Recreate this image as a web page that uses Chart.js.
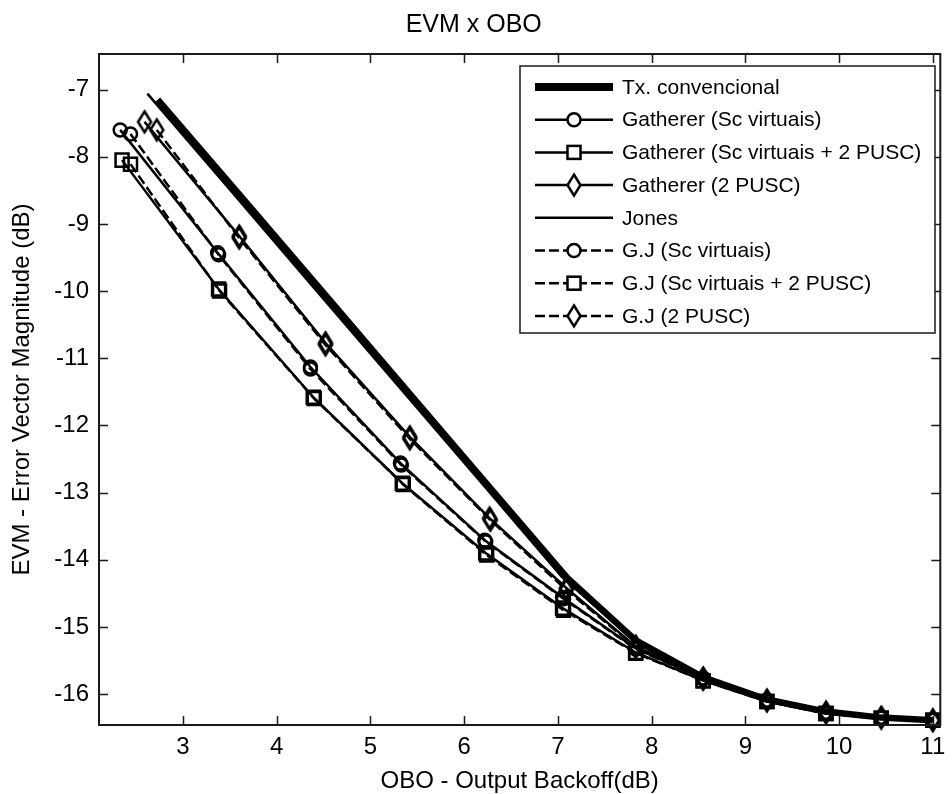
<!DOCTYPE html>
<html>
<head>
<meta charset="utf-8">
<title>EVM x OBO</title>
<script src="https://cdn.jsdelivr.net/npm/chart.js@4.4.0/dist/chart.umd.min.js"></script>
<style>
  html, body { margin: 0; padding: 0; background: #fff; }
  #wrap { width: 952px; height: 794px; }
</style>
</head>
<body>
<div id="wrap"><canvas id="chart-evm" width="952" height="794"></canvas></div>
<script>
// EVM x OBO

const xTicks = [3, 4, 5, 6, 7, 8, 9, 10, 11];
const yTicks = [-16, -15, -14, -13, -12, -11, -10, -9, -8, -7];

const seriesLabels = [
  "Tx. convencional",
  "Gatherer (Sc virtuais)",
  "Gatherer (Sc virtuais + 2 PUSC)",
  "Gatherer (2 PUSC)",
  "Jones",
  "G.J (Sc virtuais)",
  "G.J (Sc virtuais + 2 PUSC)",
  "G.J (2 PUSC)"
];

// Tx. convencional (thick line)
const txX = [2.73, 3.60, 4.52, 5.42, 6.27, 7.10, 7.83, 8.55, 9.23, 9.86, 10.45, 11.0];
const txY = [-7.15, -8.56, -10.06, -11.53, -12.92, -14.27, -15.20, -15.75, -16.08, -16.26, -16.35, -16.39];

// Gatherer (Sc virtuais)
const gScX = [2.33, 3.37, 4.36, 5.32, 6.22, 7.05, 7.83, 8.55, 9.23, 9.86, 10.45, 11.0];
const gScY = [-7.60, -9.43, -11.13, -12.56, -13.71, -14.56, -15.32, -15.76, -16.09, -16.27, -16.35, -16.39];

// Gatherer (Sc virtuais + 2 PUSC)
const gScPX = [2.35, 3.38, 4.39, 5.34, 6.23, 7.05, 7.83, 8.55, 9.23, 9.86, 10.45, 11.0];
const gScPY = [-8.05, -9.97, -11.58, -12.86, -13.90, -14.72, -15.38, -15.80, -16.11, -16.29, -16.36, -16.39];

// Gatherer (2 PUSC)
const gPX = [2.59, 3.60, 4.52, 5.42, 6.27, 7.09, 7.83, 8.55, 9.23, 9.86, 10.45, 11.0];
const gPY = [-7.48, -9.18, -10.77, -12.17, -13.38, -14.42, -15.29, -15.76, -16.09, -16.27, -16.35, -16.39];

// Jones
const jonesX = [2.62, 3.49, 4.41, 5.32, 6.20, 7.04, 7.81, 8.54, 9.22, 9.86, 10.45, 11.0];
const jonesY = [-7.06, -8.47, -9.97, -11.45, -12.88, -14.25, -15.20, -15.75, -16.08, -16.26, -16.35, -16.39];

// G.J (Sc virtuais)
const gjScX = [2.44, 3.38, 4.36, 5.33, 6.23, 7.06, 7.83, 8.55, 9.23, 9.86, 10.45, 11.0];
const gjScY = [-7.66, -9.46, -11.16, -12.59, -13.73, -14.58, -15.33, -15.77, -16.10, -16.28, -16.35, -16.39];

// G.J (Sc virtuais + 2 PUSC)
const gjScPX = [2.44, 3.39, 4.40, 5.35, 6.24, 7.06, 7.83, 8.55, 9.23, 9.86, 10.45, 11.0];
const gjScPY = [-8.11, -10.00, -11.60, -12.88, -13.93, -14.75, -15.39, -15.80, -16.11, -16.29, -16.36, -16.39];

// G.J (2 PUSC)
const gjPX = [2.72, 3.60, 4.52, 5.42, 6.28, 7.09, 7.83, 8.55, 9.23, 9.86, 10.45, 11.0];
const gjPY = [-7.60, -9.21, -10.80, -12.20, -13.41, -14.45, -15.30, -15.78, -16.10, -16.28, -16.35, -16.39];

const FONT = "'Liberation Sans', Arial, Helvetica, sans-serif";
const INK = "#000000";

// narrow diamond marker (matlab style 'd')
function makeDiamond(w, h, lw) {
  const c = document.createElement("canvas");
  c.width = w + lw * 2;
  c.height = h + lw * 2;
  const g = c.getContext("2d");
  const cx = c.width / 2, cy = c.height / 2;
  g.strokeStyle = INK;
  g.lineWidth = lw;
  g.beginPath();
  g.moveTo(cx, cy - h / 2);
  g.lineTo(cx + w / 2, cy);
  g.lineTo(cx, cy + h / 2);
  g.lineTo(cx - w / 2, cy);
  g.closePath();
  g.stroke();
  return c;
}
const diamond = makeDiamond(13, 21, 2.5);

function pts(xs, ys) {
  return xs.map((x, i) => ({ x: x, y: ys[i] }));
}

function series(label, xs, ys, opts) {
  return Object.assign({
    label: label,
    data: pts(xs, ys),
    borderColor: INK,
    backgroundColor: INK,
    borderWidth: 2.5,
    borderDash: [],
    tension: 0,
    fill: false,
    pointStyle: "circle",
    pointRadius: 0,
    pointBorderWidth: 2.5,
    pointBorderColor: INK,
    pointBackgroundColor: "rgba(0,0,0,0)",
    clip: false
  }, opts);
}

const DASH = [10, 4];

const datasets = [
  series(seriesLabels[0], txX, txY, { borderWidth: 6.5 }),
  series(seriesLabels[1], gScX, gScY, { pointStyle: "circle", pointRadius: 6.5 }),
  series(seriesLabels[2], gScPX, gScPY, { pointStyle: "rect", pointRadius: 9.2 }),
  series(seriesLabels[3], gPX, gPY, { pointStyle: diamond, pointRadius: 8 }),
  series(seriesLabels[4], jonesX, jonesY, {}),
  series(seriesLabels[5], gjScX, gjScY, { borderDash: DASH, pointStyle: "circle", pointRadius: 6.5 }),
  series(seriesLabels[6], gjScPX, gjScPY, { borderDash: DASH, pointStyle: "rect", pointRadius: 9.2 }),
  series(seriesLabels[7], gjPX, gjPY, { borderDash: DASH, pointStyle: diamond, pointRadius: 8 })
];

// box around the axes with inward ticks on all four sides
const framePlugin = {
  id: "frame",
  afterDatasetsDraw(chart) {
    const { ctx, chartArea: a, scales } = chart;
    ctx.save();
    ctx.strokeStyle = "#1a1a1a";
    ctx.lineWidth = 2;
    ctx.strokeRect(a.left, a.top, a.right - a.left, a.bottom - a.top);
    ctx.lineWidth = 1.5;
    ctx.beginPath();
    xTicks.forEach(v => {
      const px = Math.round(scales.x.getPixelForValue(v)) + 0.5;
      ctx.moveTo(px, a.bottom); ctx.lineTo(px, a.bottom - 9);
      ctx.moveTo(px, a.top); ctx.lineTo(px, a.top + 9);
    });
    yTicks.forEach(v => {
      const py = Math.round(scales.y.getPixelForValue(v)) + 0.5;
      ctx.moveTo(a.left, py); ctx.lineTo(a.left + 9, py);
      ctx.moveTo(a.right, py); ctx.lineTo(a.right - 9, py);
    });
    ctx.stroke();
    ctx.restore();
  }
};

// matlab-like legend box in the upper right of the plot
const legendPlugin = {
  id: "matlabLegend",
  afterDraw(chart) {
    const ctx = chart.ctx;
    const box = { left: 520, top: 66, right: 935, bottom: 333 };
    const rowStart = 87, rowStep = 32.7;
    const lineX0 = 535, lineX1 = 613, markX = 574, textX = 622;

    ctx.save();
    ctx.fillStyle = "#ffffff";
    ctx.fillRect(box.left, box.top, box.right - box.left, box.bottom - box.top);
    ctx.strokeStyle = "#1a1a1a";
    ctx.lineWidth = 1.5;
    ctx.strokeRect(box.left, box.top, box.right - box.left, box.bottom - box.top);

    chart.data.datasets.forEach((ds, i) => {
      const y = rowStart + i * rowStep;
      ctx.strokeStyle = INK;
      ctx.lineWidth = i === 0 ? 8 : ds.borderWidth;
      ctx.setLineDash(ds.borderDash || []);
      ctx.beginPath();
      ctx.moveTo(lineX0, y);
      ctx.lineTo(lineX1, y);
      ctx.stroke();
      ctx.setLineDash([]);

      if (ds.pointRadius > 0) {
        ctx.lineWidth = ds.pointBorderWidth;
        const r = ds.pointRadius;
        if (ds.pointStyle === "circle") {
          ctx.fillStyle = "#ffffff";
          ctx.beginPath();
          ctx.arc(markX, y, r, 0, Math.PI * 2);
          ctx.fill();
          ctx.stroke();
        } else if (ds.pointStyle === "rect") {
          const s = r * Math.SQRT1_2;
          ctx.fillStyle = "#ffffff";
          ctx.fillRect(markX - s, y - s, 2 * s, 2 * s);
          ctx.strokeRect(markX - s, y - s, 2 * s, 2 * s);
        } else if (ds.pointStyle instanceof HTMLCanvasElement) {
          const img = ds.pointStyle;
          ctx.fillStyle = "#ffffff";
          ctx.beginPath();
          ctx.moveTo(markX, y - 10); ctx.lineTo(markX + 6, y);
          ctx.lineTo(markX, y + 10); ctx.lineTo(markX - 6, y);
          ctx.closePath();
          ctx.fill();
          ctx.drawImage(img, markX - img.width / 2, y - img.height / 2);
        }
      }

      ctx.fillStyle = INK;
      ctx.font = "21px " + FONT;
      ctx.textAlign = "left";
      ctx.textBaseline = "middle";
      ctx.fillText(ds.label, textX, y + 1);
    });
    ctx.restore();
  }
};

new Chart(document.getElementById("chart-evm"), {
  type: "line",
  data: { datasets: datasets },
  options: {
    responsive: false,
    animation: false,
    events: [],
    layout: { padding: { left: 0, right: 4.5, top: 0, bottom: 0 } },
    plugins: {
      legend: { display: false },
      tooltip: { enabled: false },
      title: {
        display: true,
        text: "EVM x OBO",
        color: INK,
        font: { family: FONT, size: 25, weight: "normal" },
        padding: { top: 10, bottom: 14 }
      }
    },
    scales: {
      x: {
        type: "linear",
        min: 2.104,
        max: 11.08,
        grid: { display: false, drawTicks: false },
        border: { display: false },
        ticks: {
          color: INK,
          font: { family: FONT, size: 24 },
          padding: 8,
          maxRotation: 0,
          callback: v => String(v)
        },
        title: {
          display: true,
          text: "OBO - Output Backoff(dB)",
          color: INK,
          font: { family: FONT, size: 24, lineHeight: 1 },
          padding: { top: 0, bottom: 1 }
        },
        afterBuildTicks: s => { s.ticks = xTicks.map(v => ({ value: v })); },
        afterFit: s => { s.height = 69; s.paddingLeft = 0; s.paddingRight = 0; }
      },
      y: {
        type: "linear",
        min: -16.46,
        max: -6.47,
        grid: { display: false, drawTicks: false },
        border: { display: false },
        ticks: {
          color: INK,
          font: { family: FONT, size: 24 },
          padding: 10,
          callback: v => String(v)
        },
        title: {
          display: true,
          text: "EVM - Error Vector Magnitude (dB)",
          color: INK,
          font: { family: FONT, size: 24 },
          padding: { top: 8, bottom: 0 }
        },
        afterBuildTicks: s => { s.ticks = yTicks.map(v => ({ value: v })); },
        afterFit: s => { s.width = 99; s.paddingTop = 0; s.paddingBottom = 0; }
      }
    }
  },
  plugins: [framePlugin, legendPlugin]
});
</script>
</body>
</html>
